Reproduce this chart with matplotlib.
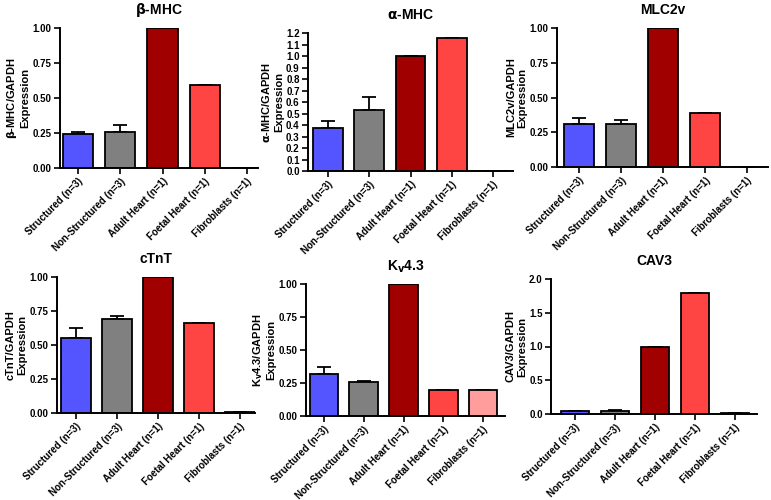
import numpy as np
import matplotlib
matplotlib.use("Agg")
import matplotlib.pyplot as plt

plt.rcParams["font.family"] = ["Liberation Sans", "DejaVu Sans"]
plt.rcParams["font.weight"] = "bold"
plt.rcParams["mathtext.default"] = "bf"

groups = ["Structured (n=3)", "Non-Structured (n=3)", "Adult Heart (n=1)",
          "Foetal Heart (n=1)", "Fibroblasts (n=1)"]
colors = ["#5555ff", "#808080", "#a00000", "#ff4444", "#ff9c9c"]

# values and upper error (SEM) per gene
bmhc = [0.24, 0.26, 1.00, 0.59, 0.0]
bmhc_err = [0.02, 0.05, 0, 0, 0]
amhc = [0.37, 0.53, 1.00, 1.16, 0.0]
amhc_err = [0.065, 0.11, 0, 0, 0]
mlc2v = [0.31, 0.31, 1.00, 0.385, 0.0]
mlc2v_err = [0.04, 0.025, 0, 0, 0]
ctnt = [0.55, 0.69, 1.00, 0.665, 0.005]
ctnt_err = [0.075, 0.02, 0, 0, 0]
kv43 = [0.32, 0.26, 1.00, 0.20, 0.195]
kv43_err = [0.05, 0.008, 0, 0, 0]
cav3 = [0.04, 0.05, 1.00, 1.80, 0.01]
cav3_err = [0.005, 0.01, 0, 0, 0]

# (title, ylabel, values, errors, ymax, yticks, fmt, pixel box: left, tick0, tick4, right, top, bottom)
panels = [
    (r"$\beta$-MHC", "$\\beta$-MHC/GAPDH\nExpression", bmhc, bmhc_err, 1.0,
     np.arange(0, 1.01, 0.25), "{:.2f}", (60, 78, 247, 258, 28, 168)),
    (r"$\alpha$-MHC", "$\\alpha$-MHC/GAPDH\nExpression", amhc, amhc_err, 1.2,
     np.arange(0, 1.21, 0.1), "{:.1f}", (308, 328, 493, 513, 33, 171)),
    ("MLC2v", "MLC2v/GAPDH\nExpression", mlc2v, mlc2v_err, 1.0,
     np.arange(0, 1.01, 0.25), "{:.2f}", (557, 579, 747, 768, 28, 167)),
    ("cTnT", "cTnT/GAPDH\nExpression", ctnt, ctnt_err, 1.0,
     np.arange(0, 1.01, 0.25), "{:.2f}", (57, 76, 240, 255, 277, 413)),
    (r"K$_v$4.3", "K$_v$4.3/GAPDH\nExpression", kv43, kv43_err, 1.0,
     np.arange(0, 1.01, 0.25), "{:.2f}", (306, 324, 483, 505, 284, 416)),
    ("CAV3", "CAV3/GAPDH\nExpression", cav3, cav3_err, 2.0,
     np.arange(0, 2.01, 0.5), "{:.1f}", (551, 575, 735, 757, 279, 414)),
]

W, H = 771, 500
fig = plt.figure(figsize=(W / 100, H / 100), dpi=100)

x = np.arange(len(groups))
for title, ylab, vals, errs, ymax, yt, fmt, box in panels:
    l, t0, t4, r, top, bot = box
    ax = fig.add_axes([l / W, 1 - bot / H, (r - l) / W, (bot - top) / H])
    sp = (t4 - t0) / 4
    ax.bar(x, vals, width=0.72, color=colors, edgecolor="black", linewidth=1.3, zorder=2)
    ax.errorbar(x, vals, yerr=[np.zeros(5), errs], fmt="none", ecolor="black",
                elinewidth=1.3, capsize=5, capthick=1.3, zorder=1)
    ax.set_xlim((l - t0) / sp, (r - t0) / sp)
    ax.set_ylim(0, ymax)
    ax.set_yticks(yt)
    ax.set_yticklabels([fmt.format(v) for v in yt], fontsize=7, fontweight="bold")
    ax.set_xticks(x)
    ax.set_xticklabels(groups, rotation=45, ha="right", rotation_mode="anchor",
                       fontsize=7, fontweight="bold")
    ax.spines["top"].set_visible(False)
    ax.spines["right"].set_visible(False)
    ax.spines["left"].set_linewidth(1.4)
    ax.spines["bottom"].set_linewidth(1.4)
    ax.tick_params(width=1.2, length=4, pad=2)
    ax.set_title(title, fontsize=10, fontweight="bold", pad=10)
    ax.set_ylabel(ylab, fontsize=8, fontweight="bold", labelpad=1.5)

fig.savefig("out.png", dpi=100)
